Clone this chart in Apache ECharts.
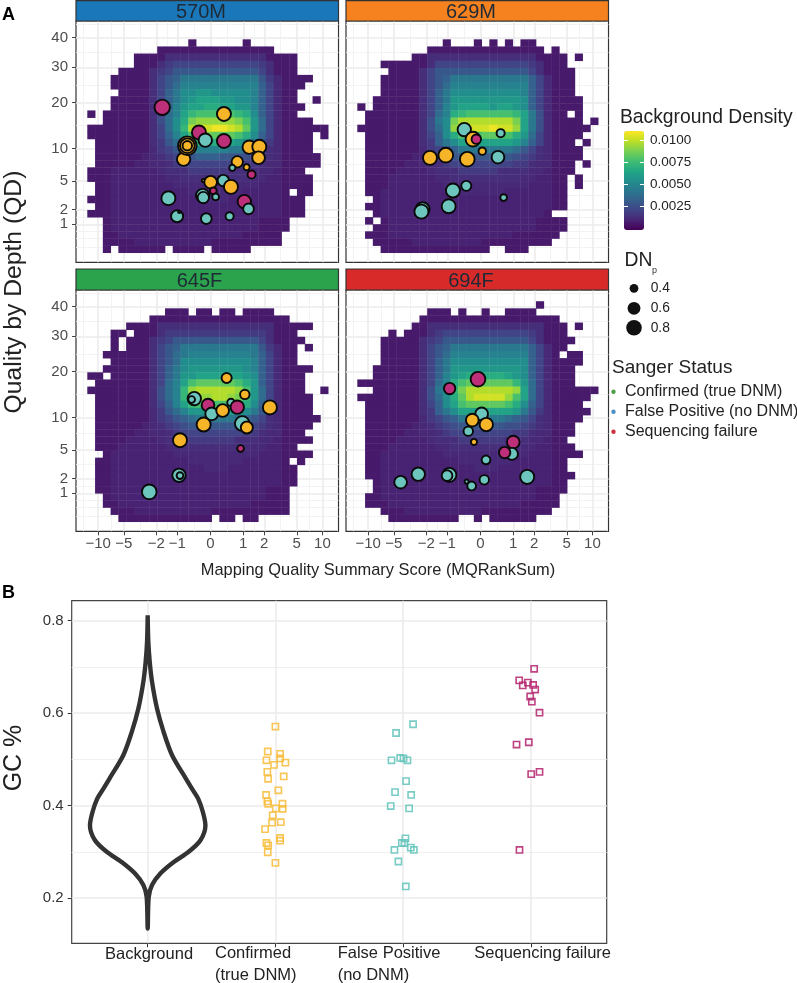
<!DOCTYPE html>
<html><head><meta charset="utf-8">
<style>html,body{margin:0;padding:0;background:#fff}#c{width:797px;height:983px}</style>
<script src="https://cdn.jsdelivr.net/npm/echarts@6/dist/echarts.min.js"></script>
</head><body><div id="c"></div>
<script>
// ---- Panel A: ticks ----
const xTickValues = [-10,-5,-2,-1,0,1,2,5,10];
const yTickValues = [1,2,5,10,20,30,40];
const panelNames = ['570M','629M','645F','694F'];
const stripColors = ['#1a78ba','#f6821f','#2ba24c','#d92a2a'];
const stripLabelCentres = [201,471,199.5,471];

// ---- Panel A: background density, rows top to bottom, '.' = no data ----
const densityLevels = {a:.0006,b:.0009,'0':.0011,'1':.0013,'2':.0017,'3':.0021,'4':.0025,'5':.0029,'6':.0033,'7':.0038,'8':.0043,'9':.0048,A:.0053,B:.0058,C:.0063,D:.0068,E:.0073,F:.0078,G:.0083,H:.0088,I:.0093,J:.0098,K:.0103,L:.0108};
const heat570M = [
"........|.....a......a....|......",
"........|.aaaaaaaaaaaaaaa.|......",
"......aa|aa1111111111111aa|aa....",
"......aa|a123333333333321a|aa....",
"....aaaa|1235555555555531a|aa....",
"...aaaaa|13568888888888520|aaaa..",
"...aaaaa|13579999999999630|aaa...",
"....aaaa|1368AABBAAAAA9630|aa....",
"...aaaaa|1368ABCCCBBAA9630|aa..a.",
"...aaaaa|1369BCCDDCCBB9630|aaa...",
"a.aaaaaa|1379CEFFFFFEDA630|aa....",
"..aaaaaa|147ADHIIIIIHFB730|aaaa..",
"aaaaaaaa|137AEJKKLLKJGB730|aaaaaa",
"aaaaaaaa|1369CFGHGGGFDA630|aaaa.a",
".aaaaaaa|1257ACDDDDCBA7420|aaaa..",
".aaaaaaa|02357899998875310|aaaa..",
".aaaaaab|01235566655543210|aaaaa.",
".aaaaabb|00123333333322100|aaaaa.",
"aaabbbbb|b011122222111100b|aaa...",
"aaabbbbb|bb0011111111100bb|aaaa..",
".aabbbbb|bbb00000000000bbb|aaaa..",
".aabbbbb|bbbbb0000000bbbbb|a.aa..",
"aaabbbbb|bbbbbbb000bbbbbbb|aaa...",
".aabbbbb|bbbbbbbbbbbbbbbbb|aaa...",
"aaabbbbb|bbbbbbbbbbbbbbbbb|aaa...",
"..abbbbb|bbbbbbbbbbbbbbaaa|a.....",
"..abbbbb|bbbbbbbbbbbbbbaaa|a.....",
"..aabbbb|bbbbbbbbbbbbaaaaa|......",
"..aaaabb|bbbbbbbbaaaaaaaaa|......",
"..a.aaaa|aa.aaaa.aaaaa....|......"];
const heat629M = [
"........|...a...a.a.a.aa..|......",
"........|.aaaaaaaaaaaaaaa.|a.....",
".......a|a11111111111111aa|aa.a..",
"...aaaaa|a133333333333321a|aa....",
"....aaaa|1355555555555531a|aaa...",
"...aaaaa|13568888888888630|aaa...",
"...aaaaa|13579999999999630|aaa...",
"...aaaaa|1368AAAAAAAAA9630|aaa...",
"..aaaaaa|1368BBBBBBBBBA630|aaaa..",
"a.aaaaaa|1369BCCCCBCCBA630|aaaa..",
".aaaaaaa|1379DEFFFFFFEC840|aa.a..",
".aaaaaaa|148AHJJJJJJJHC840|aaaa.a",
"aaaaaaaa|147AIJKKKLKKIC840|aaaaa.",
".aaaaaaa|136ADFFFGGFFDB730|aaaa..",
".aaaaaaa|1268ACCCCCCCB9630|aaa.a.",
".aaaaaaa|02356888888875310|aaaa..",
".aaaaaab|01235555555543210|aaaa..",
".aaaaabb|00123333333322100|aaa.a.",
".aaaabbb|b011122222111100b|aaa...",
".aaabbbb|bb0011111111100bb|aa.a..",
".aaabbbb|bbb00000000000bbb|aa.a..",
".aabbbbb|bbbbb000000bbbbbb|aa....",
"..abbbbb|bbbbbbbbbbbbbbbbb|aa....",
".aabbbbb|bbbbbbbbbbbbbbbbb|aa....",
"..abbbbb|bbbbbbbbbbbbbbbba|......",
".a.abbbb|bbbbbbbbbbbbbbbaa|aa....",
"..aabbbb|bbbbbbbbbbbbbbbaa|aa....",
".aaabbbb|bbbbbbbbbbbbaaaaa|a.....",
"..aaaaab|bbbbbbbbaaaaaaaaa|......",
"...aaaaa|aaaaaaaaa..aaa...|......"];
const heat645F = [
"........|..aaa.aa.aa.aaaa.|......",
"........|aaaaaaaaaaaaaaaaa|a.....",
".....aaa|a111111111111111a|aaaa..",
"...aa.aa|a122222222222221a|aa....",
"...a.aaa|1235555555555531a|aaa...",
"...a.aaa|13568888888888520|aa.a..",
"..aaaaaa|13578999999998630|aa....",
"...aaaaa|1357AAAAAAAAA9630|aa....",
"..aaaaaa|1368ABBBBBBBA9630|aaaa..",
"aa.aaaaa|1368BBCCCCCCBA630|aaa...",
".aaaaaaa|1379CFGGGGGFDB630|aaa...",
"aaaaaaaa|1479EIJJJJJIFB730|aaa..a",
".aaaaaaa|1479EHIIJJIHEB730|aaaa..",
".aaaaaaa|1369CEFFFFFEDA630|aaaa..",
".aaaaaaa|02579BBBBBBBA8520|aaaa..",
".aaaaaaa|02356788888765310|aaaaa.",
".aaaaaab|01234555555443210|aaaa..",
".aaaaabb|00123333333322100|aaa...",
".aaaabbb|b011122222211100b|aaaa..",
".aaabbbb|bb0011111111100bb|aa....",
"..abbbbb|bbb00000000000bbb|aaaa..",
".aabbbbb|bbbbb0000000bbbbb|a.a...",
".aabbbbb|bbbbbbb000bbbbbbb|aa....",
".aabbbbb|bbbbbbbbbbbbbbbbb|aa....",
".aabbbbb|bbbbbbbbbbbbbbbbb|aa....",
".aabbbbb|bbbbbbbbbbbbbbbaa|a.....",
"..abbbbb|bbbbbbbbbbbbbbbaa|a.....",
"..aabbbb|bbbbbbbbbbbbbaaaa|a.....",
"...aaabb|bbbbbbbbaaaaaaaaa|a.....",
"....aaaa|aaaaaaaa.aa.aa...|......"];
const heat694F = [
"........|...............a.|......",
"........|.aaa.a..a..aaaa..|......",
"........|aaaaaaaaaaaaaaaaa|a.....",
".......a|a111111111111111a|aa.a..",
"....a.aa|a123333333333321a|aa....",
"...aaaaa|1235555555555531a|aaa...",
"...aaaaa|13568888888888630|aa....",
"...aaaaa|13579999999999630|a.aa..",
"...aaaaa|1368AAAAAAAAAA630|aaaa..",
"..aaaaaa|1368BBBBBBBBBA630|aaa...",
"..aaaaaa|1369BCDDDDDCBA630|aaa...",
"aaaaaaaa|1379DFGGGGGGEB730|aaa...",
"..aaaaaa|148AEHJJJJJJIC730|aaaaaa",
"aaaaaaaa|147ADGJKKKKIFC730|aaaaa.",
".aaaaaaa|136ACFGGGGGFDA630|aaaa..",
".aaaaaaa|1268ACCCCCCCB8520|aaaaa.",
".aaaaaaa|02356888888765310|aaaa..",
".aaaaaab|01234555555443210|aaa...",
".aaaaabb|00123333333322100|aaa...",
".aaaabbb|b011122222211100b|aa....",
".aaabbbb|bb0011111111100bb|aaa...",
".aabbbbb|bbb00000000000bbb|aaaa..",
".aabbbbb|bbbbb0000000bbbbb|aa....",
".aabbbbb|bbbbbbb000bbbbbbb|aa....",
".aabbbbb|bbbbbbbbbbbbbbbbb|aaa...",
"..abbbbb|bbbbbbbbbbbbbbbbb|aa....",
"..abbbbb|bbbbbbbbbbbbbbbaa|aa....",
".aabbbbb|bbbbbbbbbbbbbbbaa|a.....",
".aaabbbb|bbbbbbbbbbbbbaaaa|a.....",
"...aaabb|bbbbbbbbaaaaaaaaa|......",
"....aaaa|aaaaa..a.aaaaaa..|......"];
// bin layout in transformed units (asinh MQRankSum, sqrt QD)
const heatXStart = -3.289, heatBinW = 0.2077, heatYStart = 0.19, heatBinH = 0.2029;

// ---- Panel A: variants [MQRankSum, QD, DNp, status] ; status 0 confirmed, 1 false positive, 2 failure ----
const variants570M = [[-1.67,18.8,.84,2],[.373,17.2,.76,0],[-.308,13.1,.76,2],[-.134,11.56,.72,1],[.373,11.4,.76,2],[1.24,10.24,.72,0],[1.72,10.3,.76,0],[1.68,8.4,.68,0],[-.775,8.16,.72,0],[-.654,10.5,1.04,0],[-.654,10.5,.8,0],[-.654,10.5,.48,0],[.786,7.73,.6,0],[.623,6.81,.28,1],[1.13,6.91,.28,0],[1.34,5.85,.4,2],[-.188,5.05,.1,0],[.355,5.05,.6,1],[.009,4.84,.68,0],[.581,4.27,.76,0],[.08,3.81,.32,2],[-.206,3.31,.72,1],[-.188,3.1,.6,1],[.143,3.17,.32,1],[-1.37,3.04,.76,1],[1.04,2.71,.72,2],[1.21,2.07,.56,1],[-1.01,1.51,.64,1],[-.93,1.83,.05,1],[-.107,1.35,.56,1],[.54,1.51,.4,1]];
const variants629M = [[-.441,13.7,.72,1],[.571,12.96,.4,1],[-.197,11.75,.8,0],[-.107,11.75,.48,2],[.053,9.52,.36,0],[-1.06,8.83,.8,0],[-1.79,8.38,.76,0],[-.355,8.16,.8,0],[.49,8.49,.68,1],[-.383,4.39,.52,1],[-.798,3.85,.76,1],[.665,3.1,.32,1],[-.95,2.29,.76,1],[-2.23,2.04,.76,1],[-2.31,1.85,.76,1]];
const variants645F = [[.451,18.4,.52,0],[1.06,14.6,.48,0],[-.441,13.7,.72,1],[-.52,13.5,.32,1],[-.062,12.35,.68,2],[.581,12.9,.36,1],[.786,11.95,.72,2],[2.36,11.9,.76,0],[.036,10.67,.68,1],[.336,11.3,.68,0],[-.179,8.77,.76,0],[.963,8.94,.8,1],[1.14,8.27,.64,0],[-.902,6.32,.76,0],[.902,5.18,.32,2],[-.938,2.29,.72,1],[-.902,2.26,.32,1],[-2.46,1.08,.8,1]];
const variants694F = [[-.062,18.1,.8,2],[-.915,15.9,.6,2],[.036,10.67,.68,1],[-.216,9.52,.68,0],[.161,8.77,.72,0],[-.327,7.68,.48,1],[-.17,6.08,.28,0],[1,6.04,.68,2],[.95,4.51,.64,1],[.698,4.67,.6,2],[.153,3.81,.44,1],[-2.53,2.38,.72,1],[-4.15,1.73,.68,1],[-.925,2.32,.76,1],[-1.01,2.26,.56,1],[1.61,2.15,.76,1],[.107,1.91,.48,1],[-.373,1.78,.16,1],[-.234,1.46,.44,1]];
const statusColors = ['#f6b428','#6cc6bd','#bd2f78'];

// ---- Panel B ----
const gcCategories = ['Background','Confirmed (true DNM)','False Positive (no DNM)','Sequencing failure'];
const gcTicks = [.2,.4,.6,.8];
const gcMinor = [.3,.5,.7];
const violinGC    = [.812,.754,.711,.668,.61,.559,.509,.458,.435,.415,.386,.357,.325,.30,.278,.253,.228,.202,.134];
const violinWidth = [0,.005,.016,.034,.073,.125,.191,.3,.35,.395,.432,.452,.413,.321,.204,.099,.034,.008,0];
const confirmedJitter = [0,-.06,.037,.037,-.07,.078,-.01,-.063,.065,-.057,.023,-.073,-.063,-.057,.055,.003,.057,-.021,-.026,.042,-.081,.037,.037,-.07,-.057,-.06,0];
const confirmedGC = [.571,.517,.512,.502,.498,.493,.488,.473,.463,.458,.433,.423,.409,.404,.404,.394,.393,.379,.363,.364,.349,.33,.324,.319,.314,.299,.276];
const falsePosJitter = [.078,-.055,-.091,-.023,.003,.034,.023,-.063,.063,-.097,.047,.018,-.01,.01,.06,-.068,.084,-.037,.021];
const falsePosGC = [.576,.557,.498,.503,.502,.498,.453,.429,.423,.399,.394,.329,.319,.319,.309,.304,.304,.279,.225];
const failureJitter = [.026,-.091,-.063,-.023,.018,.034,-.005,.008,.068,-.112,-.016,.003,.068,-.089];
const failureGC = [.696,.671,.66,.666,.661,.651,.636,.625,.601,.532,.537,.468,.473,.304];
const gcColors = ['#f8bd3c','#66c5bc','#b5276f'];

// ---- legends ----
const densityTicks = [.0025,.005,.0075,.01];
const dnpLegend = [.4,.6,.8];
const sangerLegend = ['Confirmed (true DNM)','False Positive (no DNM)','Sequencing failure'];
const sangerDots = ['#4f9f48','#4a8fc2','#cf3040'];
const viridis = ['#440154','#482475','#414487','#355f8d','#2a788e','#21908d','#22a884','#42be71','#7ad151','#bddf26','#fde725'];

const FONT = '"Liberation Sans",Arial,sans-serif';
const T = {x:Math.asinh, y:Math.sqrt};
const dnpDiameter = d => 2.1 + 16.5*d;

const panels = [
 {left:76, top:21, heat:heat570M, pts:variants570M, xl:false, yl:true},
 {left:346,top:21, heat:heat629M, pts:variants629M, xl:false, yl:false},
 {left:76, top:290,heat:heat645F, pts:variants645F, xl:true,  yl:true},
 {left:346,top:290,heat:heat694F, pts:variants694F, xl:true,  yl:false}
];
const pw = 262.5, ph = 241.3;
const xRange = [-3.591,3.428], yRange = [-.0857,6.8];

function mids(a){const o=[];for(let i=0;i<a.length-1;i++)o.push((a[i]+a[i+1])/2);return o;}
const xMajor = xTickValues.map(T.x), yMajor = yTickValues.map(T.y);
const xMinor = [Math.asinh(-15)].concat(mids(xMajor),[Math.asinh(15)]);
const yMinor = [.35,.59,.8].concat(mids(yMajor),[Math.sqrt(45)]);
const majorLine = {show:true,lineStyle:{color:'#ebebeb',width:1.5}};
const minorLine = {show:true,lineStyle:{color:'#f0f0f0',width:.8}};
const noLine = {show:false,onZero:false};
const yLabelStyle = {margin:8,fontSize:15,fontFamily:FONT,color:'#4d4d4d',showMinLabel:true,showMaxLabel:true,hideOverlap:false,formatter:v=>String(Math.round(v*v))};

const grid=[],xAxis=[],yAxis=[],series=[];
panels.forEach((p,i)=>{
  grid.push({left:p.left,top:p.top,width:pw,height:ph,show:true,backgroundColor:'#fff',borderColor:'#333',borderWidth:1.2});
  const gi=grid.length-1;
  xAxis.push({type:'value',gridIndex:gi,position:'bottom',min:xRange[0],max:xRange[1],
    axisLine:noLine,splitLine:majorLine,
    axisTick:{show:p.xl,length:4,inside:false,lineStyle:{color:'#444',width:1},customValues:xMajor},
    axisLabel:{show:p.xl,margin:5,fontSize:15,fontFamily:FONT,color:'#4d4d4d',customValues:xMajor,showMinLabel:true,showMaxLabel:true,hideOverlap:false,
      formatter:v=>String(Math.round(Math.sinh(v))).replace('-','\u2212')}});
  xAxis.push({type:'value',gridIndex:gi,position:'top',min:xRange[0],max:xRange[1],axisLine:noLine,splitLine:minorLine,
    axisTick:{show:false,customValues:xMinor},axisLabel:{show:false}});
  // the label "1" sits on its own axis below, so the layout does not drop it or "2" for being close together
  yAxis.push({type:'value',gridIndex:gi,position:'left',min:yRange[0],max:yRange[1],
    axisLine:noLine,splitLine:majorLine,
    axisTick:{show:p.yl,length:4,lineStyle:{color:'#444',width:1},customValues:yMajor},
    axisLabel:Object.assign({show:p.yl,customValues:yMajor.slice(1)},yLabelStyle)});
  yAxis.push({type:'value',gridIndex:gi,position:'right',min:yRange[0],max:yRange[1],axisLine:noLine,splitLine:minorLine,
    axisTick:{show:false,customValues:yMinor},axisLabel:{show:false}});
});
// density heat: rows align from the bottom bin
panels.forEach((p,i)=>{
  const data=[],rows=p.heat.map(r=>r.replace(/[| ]/g,'')),n=rows.length;
  rows.forEach((r,ri)=>{for(let c=0;c<r.length;c++){const ch=r[c];if(ch==='.')continue;
    data.push([heatXStart+c*heatBinW,heatYStart+(n-1-ri)*heatBinH,densityLevels[ch]]);}});
  series.push({type:'custom',name:panelNames[i]+' density',xAxisIndex:i*2,yAxisIndex:i*2,clip:false,silent:true,z:2,
    encode:{x:0,y:1},data,
    renderItem:(params,api)=>{
      const a=api.coord([api.value(0),api.value(1)+heatBinH]);
      const b=api.coord([api.value(0)+heatBinW,api.value(1)]);
      return {type:'rect',shape:{x:a[0],y:a[1],width:b[0]-a[0]+.4,height:b[1]-a[1]+.4},style:{fill:api.visual('color')}};
    }});
});
// variants
panels.forEach((p,i)=>{
  series.push({type:'scatter',name:panelNames[i],xAxisIndex:i*2,yAxisIndex:i*2,z:5,silent:true,
    data:p.pts.map(v=>({value:[T.x(v[0]),T.y(v[1])],symbolSize:Math.max(2,dnpDiameter(v[2])-.6),itemStyle:{color:statusColors[v[3]]}})),
    itemStyle:{borderColor:'#0a0a0a',borderWidth:1.9,opacity:1}});
});
// colour bar axis
grid.push({left:624,top:131,width:20,height:99,show:false});
const cb=grid.length-1;
xAxis.push({type:'value',gridIndex:cb,show:false,min:0,max:1});
const dt={show:true,inside:true,length:4,lineStyle:{color:'#fff',width:1},customValues:densityTicks};
yAxis.push({type:'value',gridIndex:cb,position:'right',min:-.0002,max:.0111,z:20,axisLine:noLine,splitLine:{show:false},axisTick:dt,
  axisLabel:{show:true,margin:6,fontSize:13.5,fontFamily:FONT,color:'#222',customValues:densityTicks,formatter:v=>v.toFixed(4)}});
yAxis.push({type:'value',gridIndex:cb,position:'left',min:-.0002,max:.0111,z:20,axisLine:noLine,splitLine:{show:false},axisTick:dt,axisLabel:{show:false}});
// panel B
grid.push({left:71.7,top:600.7,width:535,height:342.6,show:true,backgroundColor:'#fff',borderColor:'#444',borderWidth:1.2});
const gb=grid.length-1;
const xbMajor=xAxis.length;
xAxis.push({type:'value',gridIndex:gb,position:'bottom',min:.405,max:4.594,axisLine:noLine,splitLine:majorLine,
  axisTick:{show:true,length:4,lineStyle:{color:'#333',width:1},customValues:[1,2,3,4]},axisLabel:{show:false}});
const ybMajor=yAxis.length;
yAxis.push({type:'value',gridIndex:gb,position:'left',min:.102,max:.8433,axisLine:noLine,splitLine:majorLine,
  axisTick:{show:true,length:4,lineStyle:{color:'#333',width:1},customValues:gcTicks},
  axisLabel:{show:true,margin:8,fontSize:15,fontFamily:FONT,color:'#333',customValues:gcTicks,formatter:v=>v.toFixed(1)}});
yAxis.push({type:'value',gridIndex:gb,position:'right',min:.102,max:.8433,axisLine:noLine,splitLine:{show:true,lineStyle:{color:'#f0f0f0',width:1}},
  axisTick:{show:false,customValues:gcMinor},axisLabel:{show:false}});
// extra label-only axes carrying the "1" tick label of the two left panels
[0,2].forEach(gi=>{
  yAxis.push({type:'value',gridIndex:gi,position:'left',min:yRange[0],max:yRange[1],axisLine:noLine,splitLine:{show:false},
    axisTick:{show:false,customValues:[yMajor[0]]},
    axisLabel:Object.assign({show:true,customValues:[yMajor[0]]},yLabelStyle)});
});
const violinLine=violinGC.map((g,i)=>[1+violinWidth[i],g]).concat(violinGC.slice().reverse().map((g,i)=>[1-violinWidth[violinGC.length-1-i],g]));
series.push({type:'line',name:gcCategories[0],xAxisIndex:xbMajor,yAxisIndex:ybMajor,data:violinLine,smooth:.3,showSymbol:false,silent:true,
  lineStyle:{color:'#333',width:4.4,join:'round'},z:3});
[[confirmedJitter,confirmedGC,2,1],[falsePosJitter,falsePosGC,3,2],[failureJitter,failureGC,4,3]].forEach(a=>{
  const [j,g,cat,ci]=a;
  series.push({type:'scatter',name:gcCategories[ci],xAxisIndex:xbMajor,yAxisIndex:ybMajor,symbol:'rect',symbolSize:6.2,silent:true,z:4,
    data:j.map((v,i)=>[cat+v,g[i]]),itemStyle:{color:'rgba(255,255,255,0)',borderColor:gcColors[ci-1],borderWidth:1.6,opacity:.88}});
});
// texts and decorations
const txt=(text,x,y,size,o={})=>({type:'text',x,y,z:30,rotation:o.rot||0,silent:true,
  style:{text,font:(o.bold?'bold ':'')+size+'px '+FONT,fill:o.fill||'#222',textAlign:o.align||'left',textVerticalAlign:'middle'}});
const g=[];
panels.forEach((p,i)=>{
  const top=p.top-21;
  g.push({type:'rect',z:10,silent:true,shape:{x:p.left,y:Math.max(top,.6),width:pw,height:21-(top<1?.6:0)},style:{fill:stripColors[i],stroke:'#333',lineWidth:1.2}});
  g.push(txt(panelNames[i],stripLabelCentres[i],top+12,20,{align:'center',fill:'#1f2a36'}));
});
g.push(txt('A',2,15,18,{bold:true,fill:'#000'}));
g.push(txt('B',2,593,18,{bold:true,fill:'#000'}));
g.push(txt('Quality by Depth (QD)',14,292,24.7,{rot:Math.PI/2,align:'center'}));
g.push(txt('Mapping Quality Summary Score (MQRankSum)',378,570.7,16.4,{align:'center'}));
g.push(txt('GC %',14,758,25,{rot:Math.PI/2,align:'center'}));
g.push(txt('Background',105,954.5,16.5));
g.push(txt('Confirmed',215,953.5,16.5)); g.push(txt('(true DNM)',215,975,16.5));
g.push(txt('False Positive',337.7,953.5,16.5)); g.push(txt('(no DNM)',337.7,975,16.5));
g.push(txt('Sequencing failure',474.3,953.5,16.5));
g.push(txt('Background Density',620,118,19.3));
g.push(txt('DN',624.5,261,19.3)); g.push(txt('p',652,271,9,{fill:'#333'}));
dnpLegend.forEach((d,i)=>{
  const y=[288.3,308.3,327.7][i];
  g.push({type:'circle',z:30,silent:true,shape:{cx:634,cy:y,r:[4.4,6.4,7.8][i]},style:{fill:'#111'}});
  g.push(txt(d.toFixed(1),650.7,y,13.8,{fill:'#222'}));
});
g.push(txt('Sanger Status',612,367.7,19));
sangerLegend.forEach((s,i)=>{
  const y=391.7+i*20;
  g.push({type:'circle',z:30,silent:true,shape:{cx:613.5,cy:y,r:2.2},style:{fill:sangerDots[i]}});
  g.push(txt(s,625,y,16));
});

const chart=echarts.init(document.getElementById('c'),null,{renderer:'canvas'});
chart.setOption({animation:false,backgroundColor:'#fff',grid,xAxis,yAxis,series,graphic:g,
  visualMap:{type:'continuous',show:true,seriesIndex:[0,1,2,3],dimension:2,min:-.0002,max:.0111,left:624,top:131,itemWidth:20,itemHeight:99,padding:0,
    calculable:false,realtime:false,hoverLink:false,text:null,inRange:{color:viridis},z:4}});
</script></body></html>
